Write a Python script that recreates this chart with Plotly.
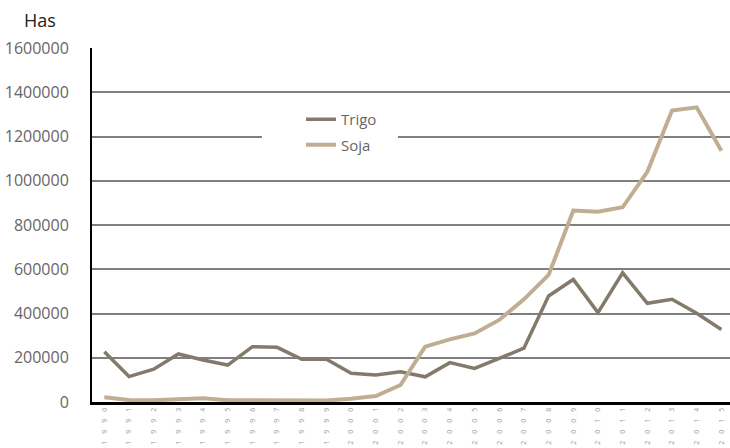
import plotly.graph_objects as go

years = [str(y) for y in range(1990, 2016)]
tick_labels = ["\u2003".join(list(y)) for y in years]

trigo = [227000, 115000, 148000, 217000, 190000, 167000, 250000, 247000, 193000, 193000,
         130000, 122000, 137000, 114000, 178000, 152000, 197000, 243000, 479000, 554000,
         404000, 584000, 446000, 464000, 401000, 328000]
soja = [21000, 9000, 8000, 12000, 17000, 8000, 7000, 7000, 8000, 7000,
        15000, 27000, 77000, 250000, 283000, 310000, 371000, 464000, 574000, 865000,
        860000, 880000, 1040000, 1317000, 1332000, 1136000]

PW, PH = 638, 354  # plot area size in px

def px_x(x):
    return (x - 92) / PW

def px_y(y):
    return (402 - y) / PH

fig = go.Figure()
fig.add_trace(go.Scatter(x=years, y=trigo, mode="lines", name="Trigo",
                         line=dict(color="#847a6b", width=3.5), legendgroup="a"))
fig.add_trace(go.Scatter(x=years, y=soja, mode="lines", name="Soja",
                         line=dict(color="#c0ae93", width=4), legendgroup="b"))

fig.update_layout(
    width=730, height=448,
    margin=dict(l=92, r=0, t=48, b=46),
    paper_bgcolor="white", plot_bgcolor="white",
    font=dict(family="Open Sans", color="#666666"),
    showlegend=True,
    legend=dict(x=px_x(301), y=px_y(103), xanchor="left", yanchor="top",
                bgcolor="rgba(0,0,0,0)", font=dict(size=15, color="#666666"),
                traceorder="grouped", tracegroupgap=3),
)
fig.add_shape(type="rect", xref="paper", yref="paper",
              x0=px_x(262), x1=px_x(398), y0=px_y(158), y1=px_y(104),
              fillcolor="white", line=dict(width=0), layer="above")
fig.add_annotation(text="Has", xref="paper", yref="paper",
                   x=px_x(22), y=px_y(20), xanchor="left", yanchor="middle",
                   showarrow=False, font=dict(size=18, color="#222222"))

fig.update_xaxes(
    type="category", range=[-0.5, 25.35],
    tickvals=years, ticktext=tick_labels, tickangle=-90,
    tickfont=dict(size=7, color="#9a9a9a"),
    showline=True, linecolor="black", linewidth=3,
    showgrid=False, ticks="", zeroline=False,
)
fig.update_yaxes(
    range=[0, 1600000], dtick=200000, tickformat="d",
    tickfont=dict(size=16, color="#666666"),
    showline=True, linecolor="black", linewidth=2,
    showgrid=True, gridcolor="#7f7f7f", gridwidth=2,
    zeroline=False, ticks="", ticklabelstandoff=18,
)

fig.write_html("out.html")
